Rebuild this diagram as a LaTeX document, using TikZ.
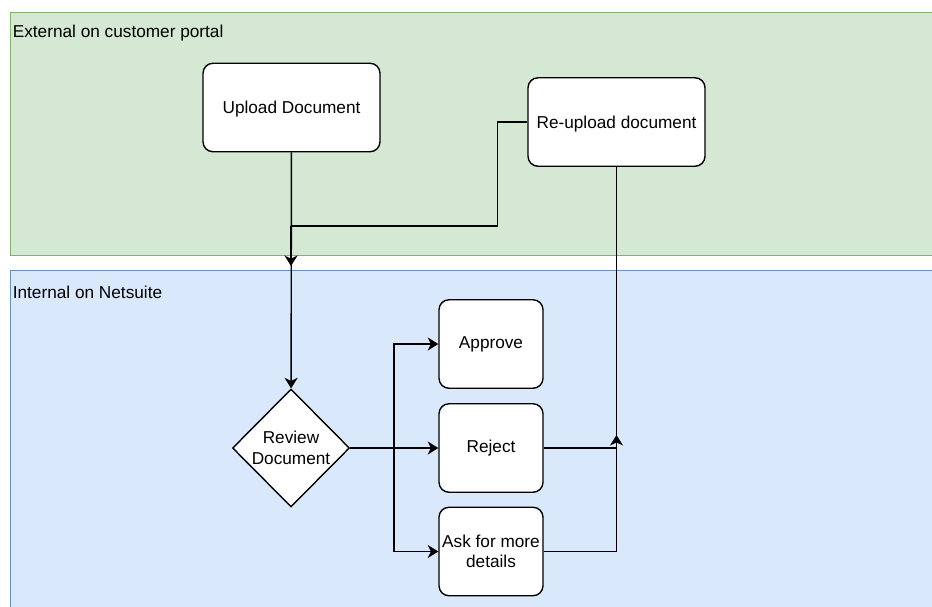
\documentclass[tikz,border=0pt]{standalone}
\usepackage{fontspec}
\setmainfont{Liberation Sans}
\usepackage{tikz}
\usetikzlibrary{positioning,calc,shapes.geometric,arrows.meta}
\definecolor{lanegreen}{HTML}{D5E8D4}
\definecolor{lanegreenline}{HTML}{82B366}
\definecolor{laneblue}{HTML}{DAE8FC}
\definecolor{laneblueline}{HTML}{6C8EBF}
\tikzset{>={Stealth[length=6pt,width=7.4pt,inset=1.8pt]}}
\tikzset{
  box/.style={draw,line width=0.8pt,fill=white,rounded corners=0.2cm,minimum height=1.77cm,
    inner sep=1.5pt,align=center,font=\fontsize{9.8}{11.6}\selectfont},
  smallbox/.style={box,minimum width=2.08cm},
  widebox/.style={box,minimum width=3.54cm,text depth=0pt},
  decision/.style={draw,line width=0.8pt,fill=white,diamond,aspect=1,inner sep=0pt,
    minimum width=2.34cm,minimum height=2.36cm,align=center,
    font=\fontsize{9.8}{11.6}\selectfont},
  lanelabel/.style={anchor=west,inner sep=0pt,font=\fontsize{9.8}{11.6}\selectfont},
  flow/.style={line width=0.8pt}
}

\begin{document}
\begin{tikzpicture}[x=0.02cm,y=-0.02cm]
\clip (0,0) rectangle (932,606);
% one unit is one pixel, y runs down

% Swim lanes
\fill[lanegreen,draw=lanegreenline] (10,12) rectangle (950,255);
\fill[laneblue,draw=laneblueline] (10,270) rectangle (950,620);
\node[lanelabel] (extlane) at (12.5,33) {External on customer portal};
\node[lanelabel] (intlane) at (12.5,292) {Internal on Netsuite};

% Steps
\node[widebox] (upload) at (291.5,107.5) {Upload Document};
\node[widebox] (reupload) at (616.5,122) {Re-upload document};
\node[decision] (review) at (291,448) {Review\\Document};
\node[smallbox] (approve) at (491,344) {Approve};
\node[smallbox] (reject) at (491,448) {Reject};
\node[smallbox] (ask) at (491,551.5) {Ask for more\\details};

% Bends and ends of the connectors
\coordinate (J) at (291,226);
\coordinate (K) at (291,266);
\coordinate (F) at (394,448);
\coordinate (R) at (616.5,435);

\draw[flow,->] (upload) -- (review);
\draw[flow] (reupload.west) -- ++(-30,0) |- (J);
\draw[flow,->] (J) -- (K);

\draw[flow,->] (review) -- (reject);
\draw[flow,->] (F) |- (approve);
\draw[flow,->] (F) |- (ask);

\draw[flow] (reject) -| (reupload.south);
\draw[flow,->] (ask) -| (R);

\end{tikzpicture}
\end{document}
